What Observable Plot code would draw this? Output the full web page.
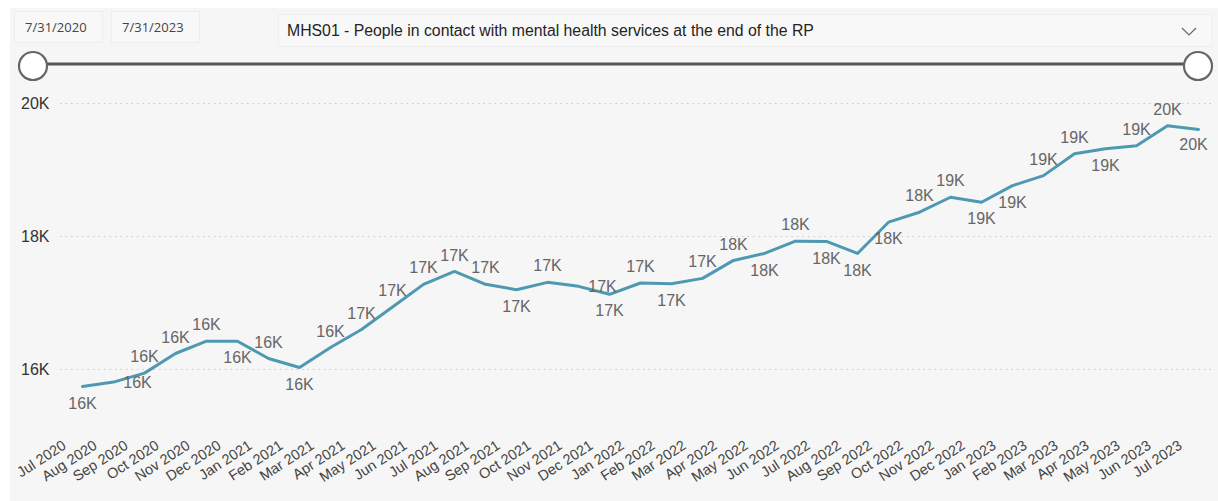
<!DOCTYPE html>
<html>
<head>
<meta charset="utf-8">
<script src="https://cdn.jsdelivr.net/npm/d3@7"></script>
<script src="https://cdn.jsdelivr.net/npm/@observablehq/plot@0.6"></script>
<style>
  html, body { margin: 0; padding: 0; background: #ffffff; }
  #wrap { position: relative; width: 1218px; height: 501px; overflow: hidden; }
  #panel { position: absolute; left: 10px; top: 8px; right: 0; bottom: 0; background: #f6f6f6; }
  .box { position: absolute; background: #f8f8f8; border: 1px solid #eeeeee; box-sizing: border-box;
         font-family: "Open Sans", "Noto Sans", sans-serif; color: #444; }
  .date { top: 11px; height: 32px; width: 89px; font-size: 13px; line-height: 30px; padding-left: 10px; }
  #dd { left: 278px; top: 14px; width: 934px; height: 33px; font-size: 15.8px; line-height: 31px; padding-left: 8px; color: #252423;
        font-family: "Liberation Sans", Arial, sans-serif; }
  #slider { position: absolute; left: 0; top: 45px; }
  #chart { position: absolute; left: 0; top: 85px; }
</style>
</head>
<body>
<div id="wrap">
  <div id="panel"></div>
  <div class="box date" style="left:14px">7/31/2020</div>
  <div class="box date" style="left:111px">7/31/2023</div>
  <div class="box" id="dd">MHS01 - People in contact with mental health services at the end of the RP
    <svg width="16" height="10" style="position:absolute;right:14px;top:12px"><polyline points="1,1 8,8 15,1" fill="none" stroke="#666" stroke-width="1.2"/></svg>
  </div>
  <svg id="slider" width="1218" height="40">
    <line x1="34" y1="19" x2="1198" y2="19" stroke="#555" stroke-width="3"/>
    <circle cx="33" cy="21" r="14" fill="#ffffff" stroke="#666" stroke-width="2.2"/>
    <circle cx="1198" cy="21" r="14" fill="#ffffff" stroke="#666" stroke-width="2.2"/>
  </svg>
  <div id="chart"></div>
</div>
<script>
const months = ["Jul 2020","Aug 2020","Sep 2020","Oct 2020","Nov 2020","Dec 2020",
  "Jan 2021","Feb 2021","Mar 2021","Apr 2021","May 2021","Jun 2021","Jul 2021","Aug 2021","Sep 2021","Oct 2021","Nov 2021","Dec 2021",
  "Jan 2022","Feb 2022","Mar 2022","Apr 2022","May 2022","Jun 2022","Jul 2022","Aug 2022","Sep 2022","Oct 2022","Nov 2022","Dec 2022",
  "Jan 2023","Feb 2023","Mar 2023","Apr 2023","May 2023","Jun 2023","Jul 2023"];
const people = [15745,15810,15945,16240,16425,16425,
  16165,16030,16330,16600,16940,17280,17475,17280,17200,17310,17250,17130,
  17300,17290,17370,17640,17745,17930,17925,17745,18215,18365,18590,18515,
  18765,18915,19245,19320,19365,19665,19610];
const labelSide = ["below","right","above","above","above","below",
  "above","below","above","above","above","above","above","above","below","above","right","below",
  "above","below","above","above","below","above","below","below","below","above","above","below",
  "below","above","above","below","above","above","edge"];
const yTicks = [16000, 18000, 20000];

const data = months.map((m, i) => ({month: m, value: people[i], side: labelSide[i]}));
const fmtK = v => Math.round(v / 1000) + "K";
const labelFont = "'Liberation Sans', Arial, sans-serif";
const labelStyle = {x: "month", y: "value", text: d => fmtK(d.value), fill: "#666666", fontSize: 16, fontFamily: labelFont};

const chart = Plot.plot({
  width: 1218,
  height: 416,
  marginLeft: 60,
  marginRight: 6,
  marginTop: 18,
  marginBottom: 85.5,
  style: {background: "transparent", fontFamily: labelFont},
  x: {type: "point", domain: months, padding: 0, insetLeft: 12, insetRight: 5},
  y: {domain: [15300, 20000]},
  marks: [
    Plot.gridY(yTicks, {stroke: "#c8c8c8", strokeOpacity: 1, strokeDasharray: "1.5,4"}),
    Plot.axisY(yTicks, {tickSize: 0, tickPadding: 11, fontSize: 16, fill: "#333333", tickFormat: fmtK, label: null}),
    Plot.axisX({tickSize: 0, tickPadding: 28, dx: -18, tickRotate: -33, fontSize: 14.5, fill: "#444444", label: null}),
    Plot.line(data, {x: "month", y: "value", stroke: "#4e99b2", strokeWidth: 3, strokeLinejoin: "round"}),
    Plot.text(data.filter(d => d.side === "above"), {...labelStyle, dy: -16}),
    Plot.text(data.filter(d => d.side === "below"), {...labelStyle, dy: 17}),
    Plot.text(data.filter(d => d.side === "right"), {...labelStyle, dx: 24, dy: 1}),
    Plot.text(data.filter(d => d.side === "edge"), {...labelStyle, dx: -5, dy: 15})
  ]
});
document.getElementById("chart").appendChild(chart);
</script>
</body>
</html>
